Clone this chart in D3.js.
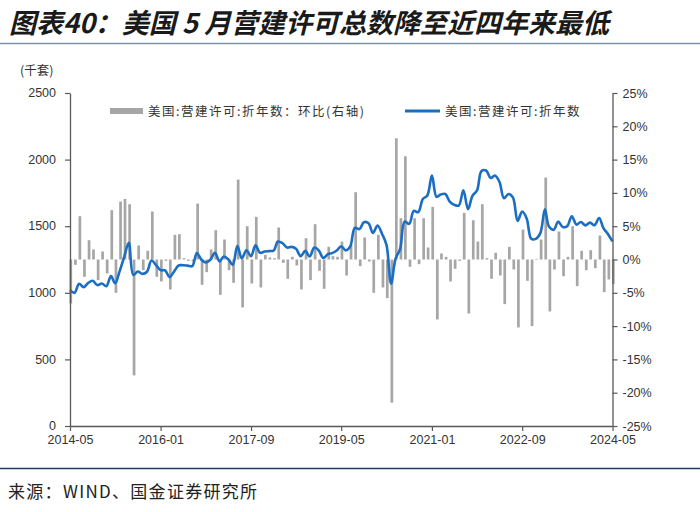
<!DOCTYPE html>
<html><head><meta charset="utf-8">
<script src="https://cdn.jsdelivr.net/npm/d3@7"></script>
<style>
html,body{margin:0;padding:0;background:#fff;}
svg{display:block;}
</style></head>
<body>
<svg id="c" width="700" height="512"></svg>
<script>
// ---- data ----
const startMonth = "2014-05";
const permits = [
1020,1000,1068,1042,1075,1090,1058,1070,1050,1125,
1072,1165,1270,1375,1135,1160,1142,1158,1242,1208,
1170,1168,1118,1160,1205,1207,1204,1200,1298,1250,
1228,1248,1300,1235,1272,1252,1210,1352,1258,1320,
1275,1356,1300,1310,1313,1318,1385,1372,1340,1345,
1330,1275,1315,1272,1340,1318,1262,1290,1298,1318,
1350,1318,1348,1488,1478,1530,1522,1450,1505,1440,
1360,1068,1255,1330,1535,1518,1615,1605,1705,1730,
1880,1720,1738,1742,1685,1660,1655,1770,1628,1728,
1770,1915,1918,1862,1880,1832,1710,1742,1714,1540,
1610,1558,1405,1405,1448,1626,1495,1473,1534,1494,
1500,1575,1512,1531,1506,1527,1508,1562,1485,1440,1386
];
const momPct = [
-6.6,-0.8,6.5,-2.6,2.9,1.5,-3.1,1.2,-2.1,7.4,
-5.0,8.7,9.1,8.3,-17.4,2.1,-1.6,1.3,7.2,-2.6,
-3.3,-0.2,-4.5,3.7,3.8,0.2,-0.2,-0.3,8.4,-3.8,
-1.9,1.5,4.4,-5.3,3.0,-1.6,-3.5,12.0,-7.2,5.0,
-3.6,6.4,-4.2,0.7,0.3,0.2,4.8,-0.5,-2.9,0.4,
-0.9,-4.5,3.2,-3.1,5.3,-1.7,-4.4,1.9,0.5,0.4,
2.7,-2.4,2.2,10.1,-1.0,3.3,-0.3,-5.0,3.7,-4.2,
-5.8,-21.5,18.2,6.2,15.5,-1.1,6.2,-0.7,6.2,1.8,
7.9,-9.0,0.9,0.4,-3.3,-1.4,-0.2,7.0,-8.1,5.9,
2.7,8.3,0.2,-2.9,1.0,-2.4,-6.7,1.9,-1.5,-10.2,
4.5,-3.2,-10.0,0.1,3.0,12.3,-7.8,-1.5,4.2,-2.5,
0.4,5.0,-4.0,1.3,-1.6,1.4,-1.3,3.6,-4.9,-3.0,-3.7
];
const xTickLabels = ["2014-05","2016-01","2017-09","2019-05","2021-01","2022-09","2024-05"];
const leftTicks = [0,500,1000,1500,2000,2500];
const rightTicks = [-25,-20,-15,-10,-5,0,5,10,15,20,25];
const titleText = "图表40：美国 5 月营建许可总数降至近四年来最低";
const unitText = "(千套)";
const legendBarText = "美国:营建许可:折年数：环比(右轴)";
const legendLineText = "美国:营建许可:折年数";
const sourceText = "来源：WIND、国金证券研究所";

// ---- setup ----
const parse = d3.timeParse("%Y-%m");
const t0 = parse(startMonth);
const dates = permits.map((d,i)=>d3.timeMonth.offset(t0,i));
const svg = d3.select("#c");
const L=70, R=612.5, T=93, B=426;
const x = d3.scaleTime().domain([dates[0], dates[dates.length-1]]).range([L,R]);
const yL = d3.scaleLinear().domain([0,2500]).range([B,T]);
const yR = d3.scaleLinear().domain([-25,25]).range([B,T]);
const axisColor = "#595959";
const textColor = "#333";
const font = "'Liberation Sans', Arial, sans-serif";
const cjk = "'Noto Sans CJK SC', sans-serif";

// title
svg.append("text").attr("x",9).attr("y",33).text(titleText)
  .attr("font-family",cjk).attr("font-size",27).attr("font-weight",700)
  .attr("font-style","italic").attr("fill","#1a1a1a");
svg.append("line").attr("x1",0).attr("x2",700).attr("y1",43.5).attr("y2",43.5)
  .attr("stroke","#7f93a8").attr("stroke-width",1.5);

// unit
svg.append("text").attr("x",20).attr("y",75).text(unitText)
  .attr("font-family",cjk).attr("font-size",12.5).attr("fill",textColor);

// bars
const bw = 2.7;
svg.append("g").selectAll("rect").data(momPct).join("rect")
  .attr("x",(d,i)=>x(dates[i])-bw/2+0.8)
  .attr("width",bw)
  .attr("y",d=>yR(Math.max(0,d)))
  .attr("height",d=>Math.abs(yR(d)-yR(0)))
  .attr("fill","#a6a6a6");

// line
const line = d3.line().x((d,i)=>x(dates[i])).y(d=>yL(d)).curve(d3.curveCatmullRom.alpha(0.5));
svg.append("path").datum(permits).attr("d",line)
  .attr("fill","none").attr("stroke","#1b6ec2").attr("stroke-width",2.6)
  .attr("stroke-linejoin","round");

// left axis
const gL = svg.append("g").attr("transform",`translate(${L},0)`)
  .call(d3.axisLeft(yL).tickValues(leftTicks).tickSize(5).tickSizeOuter(0).tickPadding(9)
    .tickFormat(d3.format("d")));
// right axis
const gR = svg.append("g").attr("transform",`translate(${R},0)`)
  .call(d3.axisRight(yR).tickValues(rightTicks).tickSize(5).tickSizeOuter(0).tickPadding(5)
    .tickFormat(d=>d+"%"));
// bottom axis
const tickDates = xTickLabels.map(s=>parse(s));
const gB = svg.append("g").attr("transform",`translate(0,${B})`)
  .call(d3.axisBottom(x).tickValues(tickDates).tickSize(5).tickSizeOuter(0).tickPadding(4)
    .tickFormat((d,i)=>xTickLabels[i]));
gB.select(".domain").attr("d",`M${L},0.5H${R}`);
[gL,gR,gB].forEach(g=>{
  g.select(".domain").attr("stroke",axisColor).attr("stroke-width",1.3);
  g.selectAll(".tick line").attr("stroke",axisColor).attr("stroke-width",1.2);
  g.selectAll(".tick text").attr("fill",textColor).attr("font-family",font).attr("font-size",12.5);
});
gL.selectAll(".tick text").attr("dy","0.3em");

// legend
const lg = svg.append("g");
lg.append("rect").attr("x",110).attr("y",108).attr("width",33).attr("height",6).attr("fill","#a6a6a6");
lg.append("text").attr("x",148).attr("y",116).text(legendBarText)
  .attr("font-family",cjk).attr("font-size",12.5).attr("letter-spacing",1.5).attr("fill",textColor);
lg.append("line").attr("x1",405).attr("x2",440).attr("y1",111).attr("y2",111)
  .attr("stroke","#1b6ec2").attr("stroke-width",3);
lg.append("text").attr("x",445).attr("y",116).text(legendLineText)
  .attr("font-family",cjk).attr("font-size",12.5).attr("letter-spacing",1.5).attr("fill",textColor);

// source
svg.append("line").attr("x1",0).attr("x2",700).attr("y1",468.5).attr("y2",468.5)
  .attr("stroke","#1f3a5f").attr("stroke-width",1.5);
svg.append("text").attr("x",8).attr("y",498).text(sourceText)
  .attr("font-family",cjk).attr("font-size",17).attr("letter-spacing",1.3).attr("fill","#222");
</script>
</body></html>
